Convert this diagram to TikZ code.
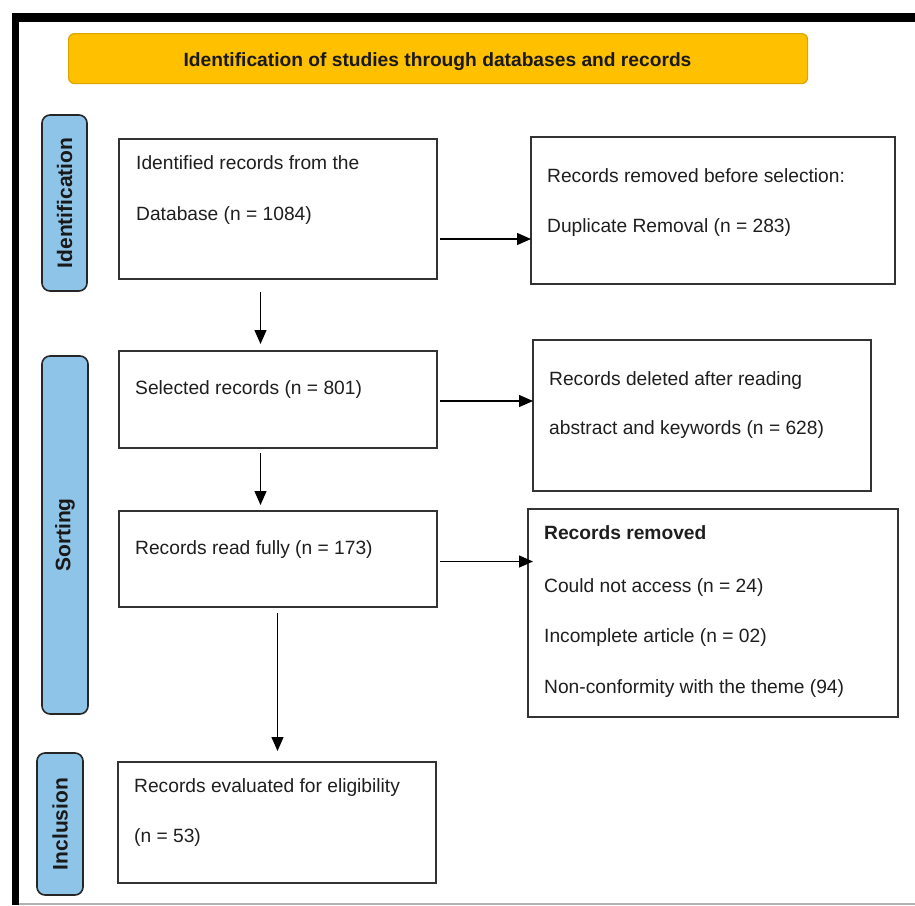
\documentclass[tikz,border=0pt]{standalone}
\usepackage{fontspec}
\setmainfont{Liberation Sans}
\usetikzlibrary{arrows.meta}
\definecolor{bannerfill}{HTML}{FFC000}
\definecolor{bannerdraw}{HTML}{DDA400}
\definecolor{phasefill}{HTML}{8EC4E8}
\definecolor{boxline}{HTML}{333333}
\definecolor{txtcol}{HTML}{1E1E1E}
\begin{document}
\begin{tikzpicture}[x=1pt,y=-1pt,
  box/.style={draw=boxline, line width=1.6pt, anchor=north west, inner sep=0pt, outer sep=0pt},
  phase/.style={draw=black!85, fill=phasefill, line width=1.6pt, rounded corners=8pt, anchor=north west, inner sep=0pt, outer sep=0pt},
  phasetxt/.style={rotate=90, inner sep=0pt, font=\fontsize{21}{25}\selectfont\bfseries, text=black!90},
  txt/.style={anchor=base west, inner sep=0pt, font=\fontsize{19.2}{23}\selectfont, text=txtcol},
  arr/.style={draw=black, line width=1.3pt, -{Triangle[length=14pt,width=12pt]}}]
\useasboundingbox (0,0) rectangle (915,905);
% outer frame
\draw[line width=8.5pt] (12,17.5) -- (915,17.5);
\draw[line width=7pt] (15.5,13.25) -- (15.5,905);
\draw[gray!60, line width=1.2pt] (19,904) -- (915,904);
% banner
\node[draw=bannerdraw, fill=bannerfill, rounded corners=6pt, line width=1.2pt, anchor=north west,
      minimum width=739pt, minimum height=50pt, inner sep=0pt] (T) at (68,33) {};
\node[anchor=base, inner sep=0pt, font=\fontsize{19.2}{23}\selectfont\bfseries, text=black!90] (Tt) at (437.5,66) {Identification of studies through databases and records};
% phase labels
\node[phase, minimum width=45pt, minimum height=176pt] (P1) at (42,115) {};
\node[phasetxt] (P1t) at (P1.center) {Identification};
\node[phase, minimum width=46pt, minimum height=358pt] (P2) at (42,356) {};
\node[phasetxt] (P2t) at (P2.center) {Sorting};
\node[phase, minimum width=46pt, minimum height=142pt] (P3) at (37,753) {};
\node[phasetxt] (P3t) at (P3.center) {Inclusion};
% boxes
\node[box, minimum width=318pt, minimum height=140pt] (A) at (119,139) {};
\node[box, minimum width=364pt, minimum height=147pt] (B) at (531,137) {};
\node[box, minimum width=318pt, minimum height=97pt]  (C) at (119,351) {};
\node[box, minimum width=338pt, minimum height=151pt] (D) at (533,340) {};
\node[box, minimum width=318pt, minimum height=96pt]  (E) at (119,511) {};
\node[box, minimum width=370pt, minimum height=208pt] (F) at (528,509) {};
\node[box, minimum width=318pt, minimum height=121pt] (G) at (118,762) {};
% texts
\node[txt] (A1) at (136,169) {Identified records from the};
\node[txt] (A2) at (136,220) {Database (n = 1084)};
\node[txt] (B1) at (547,182) {Records removed before selection:};
\node[txt] (B2) at (547,232) {Duplicate Removal (n = 283)};
\node[txt] (C1) at (135,394) {Selected records (n = 801)};
\node[txt] (D1) at (549,385) {Records deleted after reading};
\node[txt] (D2) at (549,434) {abstract and keywords (n = 628)};
\node[txt] (E1) at (135,554) {Records read fully (n = 173)};
\node[txt, font=\fontsize{19.2}{23}\selectfont\bfseries] (F1) at (544,539) {Records removed};
\node[txt] (F2) at (544,592) {Could not access (n = 24)};
\node[txt] (F3) at (544,642) {Incomplete article (n = 02)};
\node[txt] (F4) at (544,693) {Non-conformity with the theme (94)};
\node[txt] (G1) at (134,792) {Records evaluated for eligibility};
\node[txt] (G2) at (134,842) {(n = 53)};
% connector guides
\coordinate (yAB) at (0,239);
\coordinate (yCD) at (0,401);
\coordinate (yEF) at (0,561.5);
\coordinate (xAC) at (260.5,0);
\coordinate (xEG) at (277.5,0);
% connectors
\draw[arr, shorten <=3pt] (A.east |- yAB) -- (B.west |- yAB);
\draw[arr, shorten <=3pt] (C.east |- yCD) -- (D.west |- yCD);
\draw[arr, shorten <=3pt, shorten >=-5pt] (E.east |- yEF) -- (F.west |- yEF);
\draw[arr, shorten <=13pt, shorten >=7pt] (xAC |- A.south) -- (xAC |- C.north);
\draw[arr, shorten <=5pt, shorten >=6pt] (xAC |- C.south) -- (xAC |- E.north);
\draw[arr, shorten <=6pt, shorten >=11pt] (xEG |- E.south) -- (xEG |- G.north);
\end{tikzpicture}
\end{document}
